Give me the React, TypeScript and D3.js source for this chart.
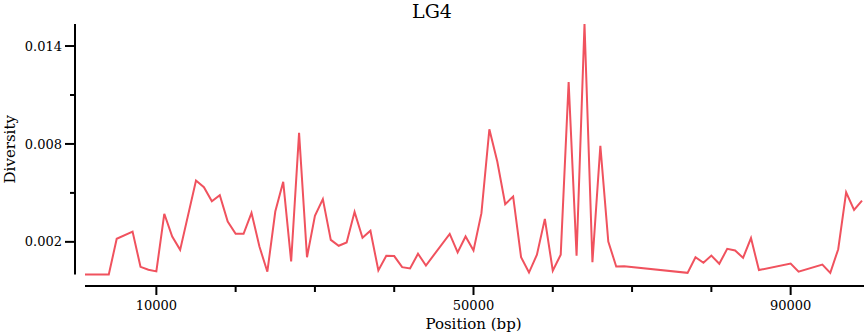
import React from "react";
import * as d3 from "d3";

// window positions (bp) and nucleotide diversity for LG4
const positions = [
  1000, 4000, 5000, 7000, 8000, 9000, 10000, 11000, 12000, 13000,
  15000, 16000, 17000, 18000, 19000, 20000, 21000, 22000, 23000, 24000,
  25000, 26000, 27000, 28000, 29000, 30000, 31000, 32000, 33000, 34000,
  35000, 36000, 37000, 38000, 39000, 40000, 41000, 42000, 43000, 44000,
  47000, 48000, 49000, 50000, 51000, 52000, 53000, 54000, 55000, 56000,
  57000, 58000, 59000, 60000, 61000, 62000, 63000, 64000, 65000, 66000,
  67000, 68000, 69000, 77000, 78000, 79000, 80000, 81000, 82000, 83000,
  84000, 85000, 86000, 90000, 91000, 94000, 95000, 96000, 97000, 98000,
  99000,
];
const diversity = [
  0, 0, 0.00219, 0.00263, 0.00047, 0.00029, 0.00019, 0.00372, 0.00233, 0.00151,
  0.00576, 0.00535, 0.00449, 0.00486, 0.00325, 0.00249, 0.00249, 0.00378, 0.00171, 0.00017,
  0.00386, 0.00568, 0.0008, 0.00868, 0.00106, 0.00359, 0.00462, 0.00212, 0.00176, 0.00196,
  0.00384, 0.00225, 0.00268, 0.00025, 0.00115, 0.00113, 0.00045, 0.00037, 0.00127, 0.00055,
  0.00249, 0.00135, 0.00233, 0.00147, 0.00376, 0.0089, 0.00692, 0.00431, 0.00478, 0.00106,
  0.00012, 0.00121, 0.00341, 0.00023, 0.00121, 0.0118, 0.00115, 0.01535, 0.00076, 0.00788,
  0.00202, 0.00049, 0.00051, 0.0001, 0.00106, 0.00072, 0.00116, 0.00066, 0.00157, 0.00147,
  0.00102, 0.00223, 0.00027, 0.00067, 0.00017, 0.00061, 0.0001, 0.00155, 0.00504, 0.00396,
  0.00453,
];
const xTicks = [10000, 20000, 30000, 40000, 50000, 60000, 70000, 80000, 90000];
const xLabelled = [10000, 50000, 90000];
const yTicks = [0.002, 0.005, 0.008, 0.011, 0.014];
const yLabelled = [0.002, 0.008, 0.014];

const width = 864;
const height = 336;
const font = "DejaVu Serif";
const lineColor = "#f0525e";

export default function App() {
  const data = positions.map((p, i) => ({ x: p, y: diversity[i] }));
  const x = d3.scaleLinear().domain(d3.extent(positions) as [number, number]).range([85, 862]);
  const y = d3.scaleLinear().domain([0, d3.max(diversity) as number]).range([274.5, 24]);
  const line = d3.line<{ x: number; y: number }>().x(d => x(d.x)).y(d => y(d.y));
  const axisX = 75;
  const axisY = 286;

  return (
    <svg width={width} height={height} style={{ position: "absolute", left: 0, top: 0 }}
      fontFamily={font}>
      <text x={width / 2} y={18} textAnchor="middle" fontSize={19}>LG4</text>

      {/* y axis */}
      <line x1={axisX} x2={axisX} y1={y.range()[1]} y2={y.range()[0]} stroke="#000" strokeWidth={2} />
      {yTicks.map(t => {
        const major = yLabelled.includes(t);
        return (
          <g key={t} transform={`translate(0,${y(t)})`}>
            <line x1={axisX - (major ? 10 : 5)} x2={axisX} stroke="#000" strokeWidth={2} />
            {major && <text x={axisX - 13} dy="0.35em" textAnchor="end" fontSize={13}>{t}</text>}
          </g>
        );
      })}
      <text transform={`translate(15,${(y.range()[0] + y.range()[1]) / 2}) rotate(-90)`}
        textAnchor="middle" fontSize={15}>Diversity</text>

      {/* x axis */}
      <line x1={x.range()[0]} x2={x.range()[1] + 2} y1={axisY} y2={axisY} stroke="#000" strokeWidth={2} />
      {xTicks.map(t => {
        const major = xLabelled.includes(t);
        return (
          <g key={t} transform={`translate(${x(t)},0)`}>
            <line y1={axisY} y2={axisY + (major ? 9 : 6)} stroke="#000" strokeWidth={2} />
            {major && <text y={310} textAnchor="middle" fontSize={13}>{t}</text>}
          </g>
        );
      })}
      <text x={(x.range()[0] + x.range()[1]) / 2} y={329} textAnchor="middle" fontSize={15}>
        Position (bp)
      </text>

      <path d={line(data) ?? ""} fill="none" stroke={lineColor} strokeWidth={2} />
    </svg>
  );
}
